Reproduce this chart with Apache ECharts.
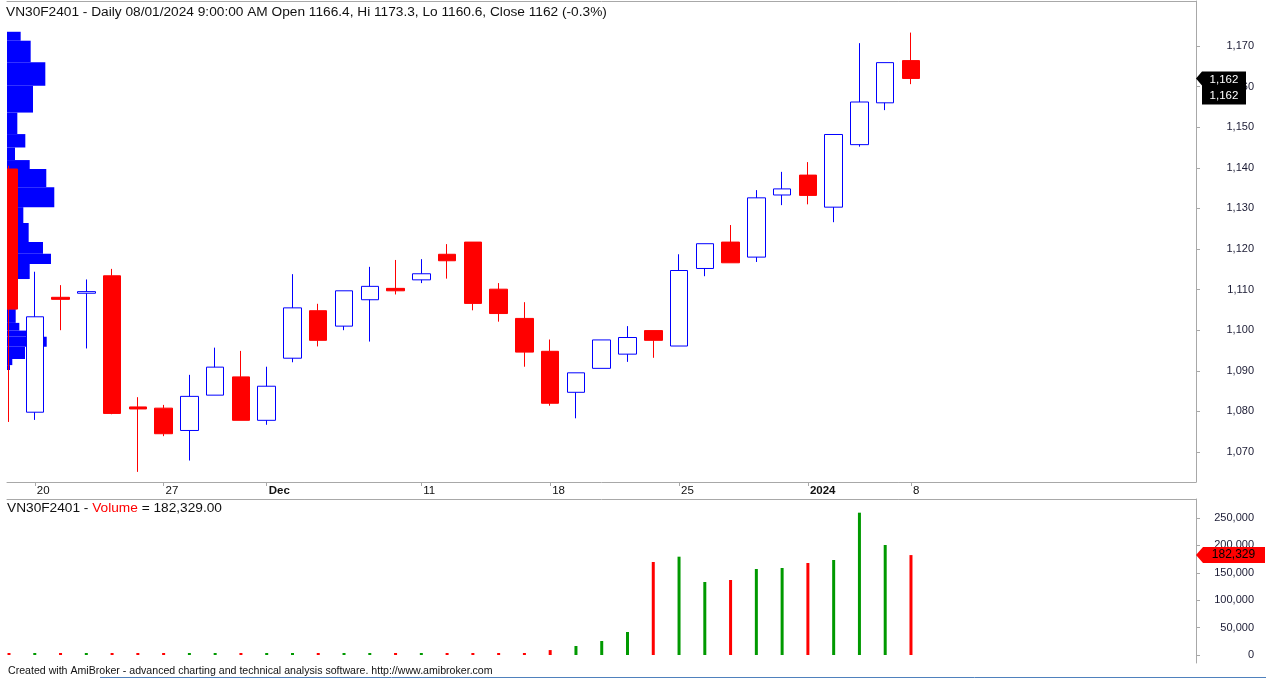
<!DOCTYPE html>
<html>
<head>
<meta charset="utf-8">
<script src="https://cdn.jsdelivr.net/npm/echarts@6/dist/echarts.min.js"></script>
<style>
html,body{margin:0;padding:0;background:#ffffff;}
#chart{width:1266px;height:679px;}
</style>
</head>
<body>
<div id="chart"></div>
<script>
// ---- data ----
var dates = ['2023-11-17','2023-11-20','2023-11-21','2023-11-22','2023-11-23','2023-11-24',
  '2023-11-27','2023-11-28','2023-11-29','2023-11-30','2023-12-01',
  '2023-12-04','2023-12-05','2023-12-06','2023-12-07','2023-12-08',
  '2023-12-11','2023-12-12','2023-12-13','2023-12-14','2023-12-15',
  '2023-12-18','2023-12-19','2023-12-20','2023-12-21','2023-12-22',
  '2023-12-25','2023-12-26','2023-12-27','2023-12-28','2023-12-29',
  '2024-01-02','2024-01-03','2024-01-04','2024-01-05','2024-01-08'];
var openP  = [1139.7,1079.8,1108.1,1109.1,1113.4,1081.1,1080.8,1075.3,1084.0,1088.5,1077.8,
  1093.1,1104.8,1101.0,1107.5,1110.3,1112.4,1118.7,1121.7,1110.1,1102.9,
  1094.8,1084.7,1090.6,1094.1,1099.9,1096.1,1115.2,1121.7,1118.0,1133.3,
  1138.2,1130.3,1145.7,1156.0,1166.4];
var closeP = [1105.2,1103.3,1107.6,1109.5,1079.5,1080.6,1074.5,1083.7,1090.9,1077.8,1086.2,
  1105.5,1097.5,1109.7,1110.8,1109.7,1113.9,1117.1,1106.6,1104.1,1094.6,
  1082.0,1089.5,1097.6,1098.2,1097.5,1114.7,1121.3,1116.6,1132.6,1134.8,
  1133.2,1148.2,1156.2,1165.9,1162.0];
var lowP   = [1077.4,1077.9,1100.0,1095.5,1079.3,1065.1,1073.9,1067.9,1084.0,1077.8,1076.7,
  1092.1,1096.0,1100.0,1097.2,1108.8,1111.6,1112.7,1104.9,1102.1,1091.0,
  1081.4,1078.3,1090.6,1092.2,1093.2,1096.1,1113.3,1116.6,1116.8,1130.8,
  1131.0,1126.6,1145.2,1154.2,1160.6];
var highP  = [1140.5,1114.4,1111.1,1112.5,1115.1,1083.5,1081.6,1089.0,1095.7,1094.9,1091.0,
  1113.8,1106.5,1109.7,1115.6,1117.3,1117.5,1121.2,1121.7,1111.6,1106.9,
  1097.7,1089.5,1097.6,1101.0,1099.9,1118.7,1121.3,1125.9,1134.5,1139.0,
  1141.4,1148.2,1170.7,1165.9,1173.3];
var volumes = [900,1100,800,1000,1200,700,900,1000,1100,800,900,
  1000,800,1100,900,1000,1200,900,1000,800,1100,
  9000,16400,25500,42000,169700,179400,133200,136900,156900,158800,
  167900,173400,259700,200700,182329];

// volume-at-price profile (price bins and volume, thousands)
var vapHigh = [1173.5,1171.3,1166.0,1160.2,1153.6,1148.3,1145.0,1141.9,1139.7,1135.2,1130.3,1126.4,
  1121.7,1118.8,1116.3,1112.6,1105.2,1101.8,1099.9,1098.4,1095.9,1092.9,1091.4];
var vapLow  = [1171.3,1166.0,1160.2,1153.6,1148.3,1145.0,1141.9,1139.7,1135.2,1130.3,1126.4,1121.7,
  1118.8,1116.3,1112.6,1105.2,1101.8,1099.9,1098.4,1095.9,1092.9,1091.4,1090.2];
var vapVolume = [25.3,43.8,70.9,48.1,19.1,33.9,14.8,42.0,72.7,87.5,30.2,40.1,
  66.6,81.4,42.0,18.5,16.1,22.8,42.6,73.5,33.3,9.8,5.6];

// axis labels
var xTickIndex = [1,6,10,16,21,26,31,35];
var xTickText  = ['20','27','Dec','11','18','25','2024','8'];
var xTickBold  = [false,false,true,false,false,false,true,false];
var priceTicks = [1070,1080,1090,1100,1110,1120,1130,1140,1150,1160,1170];
var volumeTicks = [0,50000,100000,150000,200000,250000];

var lastClose = 1162;
var lastVolume = 182329;

// ---- build chart ----
var FONT = 'Liberation Sans, Arial, sans-serif';
var GRAY = '#a8a8a8';
var X_MIN = -0.0776, X_MAX = 46.06;

var candleData = dates.map(function (d, i) {
  return [i, openP[i], closeP[i], lowP[i], highP[i]];
});
var volData = volumes.map(function (v, i) {
  return { value: [i, v], itemStyle: { color: closeP[i] >= openP[i] ? '#009900' : '#ff0000' } };
});
var vapData = vapVolume.map(function (v, i) { return [vapLow[i], vapHigh[i], v]; });

function fmt(n) { return Number(n).toLocaleString('en-US'); }

var chart = echarts.init(document.getElementById('chart'), null, { renderer: 'canvas' });
chart.setOption({
  animation: false,
  backgroundColor: '#ffffff',
  textStyle: { fontFamily: FONT },
  title: [
    { text: 'VN30F2401 - Daily 08/01/2024 9:00:00 AM Open 1166.4, Hi 1173.3, Lo 1160.6, Close 1162 (-0.3%)',
      left: 6, top: 5, padding: 0, z: 20,
      textStyle: { fontFamily: FONT, fontSize: 13.7, fontWeight: 'normal', color: '#111' } },
    { text: 'VN30F2401 - {r|Volume} = ' + fmt(lastVolume) + '.00',
      left: 7, top: 501, padding: 0,
      textStyle: { fontFamily: FONT, fontSize: 13.7, fontWeight: 'normal', color: '#111',
        rich: { r: { fontFamily: FONT, fontSize: 13.7, color: '#ff0000' } } } },
    { text: 'Created with AmiBroker - advanced charting and technical analysis software. http://www.amibroker.com',
      left: 8, top: 666, padding: 0,
      textStyle: { fontFamily: FONT, fontSize: 10.6, fontWeight: 'normal', color: '#111' } }
  ],
  grid: [
    { left: 7, right: 70, top: 1, bottom: 197 },
    { left: 7, right: 70, top: 499, bottom: 16 }
  ],
  xAxis: [
    { type: 'value', gridIndex: 0, min: X_MIN, max: X_MAX, position: 'bottom',
      axisLine: { show: true, onZero: false, lineStyle: { color: GRAY, width: 1 } },
      axisTick: { show: true, length: 4, customValues: xTickIndex, lineStyle: { color: GRAY } },
      splitLine: { show: false },
      axisLabel: { show: true, customValues: xTickIndex, align: 'left', margin: 3,
        padding: [0, 0, 0, 2], fontFamily: FONT, fontSize: 11.5, color: '#111',
        formatter: function (v) {
          var k = xTickIndex.indexOf(Math.round(v));
          if (k < 0) return '';
          return xTickBold[k] ? '{b|' + xTickText[k] + '}' : xTickText[k];
        },
        rich: { b: { fontFamily: FONT, fontSize: 11.5, fontWeight: 'bold', color: '#111' } } } },
    { type: 'value', gridIndex: 0, min: 0, max: 2200, position: 'top',
      axisLine: { show: true, onZero: false, lineStyle: { color: GRAY, width: 1 } },
      axisTick: { show: false }, axisLabel: { show: false }, splitLine: { show: false } },
    { type: 'value', gridIndex: 1, min: X_MIN, max: X_MAX, position: 'top',
      axisLine: { show: true, onZero: false, lineStyle: { color: GRAY, width: 1 } },
      axisTick: { show: false }, axisLabel: { show: false }, splitLine: { show: false } }
  ],
  yAxis: [
    { type: 'value', gridIndex: 0, min: 1062.61, max: 1181.08, position: 'right',
      axisLine: { show: true, onZero: false, lineStyle: { color: GRAY, width: 1 } },
      axisTick: { show: true, length: 4, customValues: priceTicks, lineStyle: { color: GRAY } },
      splitLine: { show: false },
      axisLabel: { show: true, customValues: priceTicks, align: 'right', margin: 58,
        fontFamily: FONT, fontSize: 11, color: '#1a1a33', formatter: function (v) { return fmt(v); } } },
    { type: 'value', gridIndex: 1, min: -14599, max: 284672, position: 'right',
      axisLine: { show: true, onZero: false, lineStyle: { color: GRAY, width: 1 } },
      axisTick: { show: true, length: 4, customValues: volumeTicks, lineStyle: { color: GRAY } },
      splitLine: { show: false },
      axisLabel: { show: true, customValues: volumeTicks, align: 'right', margin: 58,
        fontFamily: FONT, fontSize: 11, color: '#1a1a33', formatter: function (v) { return fmt(v); } } }
  ],
  series: [
    { type: 'custom', name: 'VAP', xAxisIndex: 1, yAxisIndex: 0, z: 1, clip: true,
      encode: { x: 2, y: [0, 1] },
      data: vapData,
      renderItem: function (params, api) {
        var p1 = api.coord([0, api.value(1)]);
        var p2 = api.coord([api.value(2), api.value(0)]);
        return { type: 'rect',
          shape: { x: p1[0], y: p1[1], width: p2[0] - p1[0], height: p2[1] - p1[1] },
          style: { fill: '#0000ff' } };
      } },
    { type: 'candlestick', name: 'Price', xAxisIndex: 0, yAxisIndex: 0, z: 3, clip: true,
      barWidth: 18,
      dimensions: ['x', 'open', 'close', 'lowest', 'highest'],
      encode: { x: 0, y: [1, 2, 3, 4] },
      data: candleData,
      itemStyle: { color: '#ffffff', color0: '#ff0000', borderColor: '#0000ff', borderColor0: '#ff0000', borderWidth: 1 },
      markPoint: {
        silent: true,
        data: [{ coord: [X_MAX, lastClose],
          symbol: 'path://M0,7L6,0L50,0L50,33L6,33L6,14Z', symbolSize: [50, 33], symbolOffset: [25, 9.5],
          itemStyle: { color: '#000000' },
          label: { show: true, position: 'inside', offset: [3, 0], formatter: fmt(lastClose) + '\n' + fmt(lastClose),
            color: '#ffffff', fontFamily: FONT, fontSize: 11.5, lineHeight: 16 } }]
      } },
    { type: 'bar', name: 'Volume', xAxisIndex: 2, yAxisIndex: 1, z: 3,
      barWidth: 3, barMinHeight: 2,
      data: volData,
      markPoint: {
        silent: true,
        data: [{ coord: [X_MAX, lastVolume],
          symbol: 'path://M0,8L7,0L69,0L69,16L7,16Z', symbolSize: [69, 16], symbolOffset: [34.5, 0],
          itemStyle: { color: '#ff0000' },
          label: { show: true, position: 'inside', offset: [3, 0], formatter: fmt(lastVolume),
            color: '#000000', fontFamily: FONT, fontSize: 12 } }]
      } }
  ],
  graphic: [
    { type: 'rect', silent: true, z: 10, shape: { x: 0, y: 22, width: 7, height: 459 },
      style: { fill: '#ffffff' } },
    { type: 'line', silent: true, shape: { x1: 100, y1: 677.5, x2: 1266, y2: 677.5 },
      style: { stroke: '#4f81bd', lineWidth: 1 } }
  ]
});
</script>
</body>
</html>
